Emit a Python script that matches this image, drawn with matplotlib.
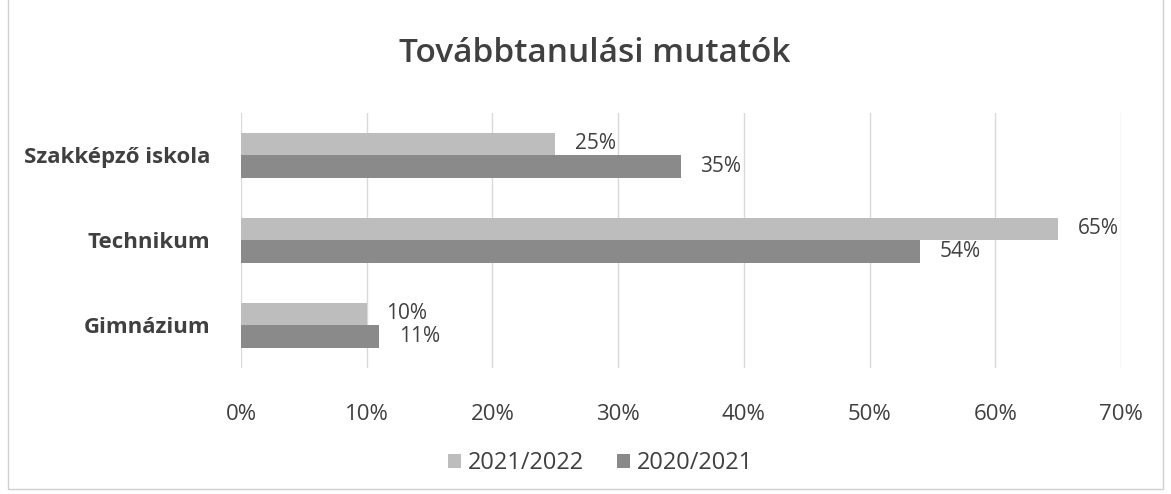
import numpy as np
import matplotlib.pyplot as plt
from matplotlib.patches import Rectangle

categories = ["Szakképző iskola", "Technikum", "Gimnázium"]
labels = ["2021/2022", "2020/2021"]
vals_2122 = [25, 65, 10]
vals_2021 = [35, 54, 11]
xticks = [0, 10, 20, 30, 40, 50, 60, 70]

plt.rcParams['font.family'] = ['Open Sans', 'DejaVu Sans']
txt = '#404040'
c_light = '#bdbdbd'
c_dark = '#8a8a8a'

fig = plt.figure(figsize=(11.71, 4.94), dpi=100)
ax = fig.add_axes([0.2058, 0.256, 0.7515, 0.516])

y = np.arange(len(categories))
h = 0.265
b1 = ax.barh(y - h / 2, vals_2122, height=h, color=c_light, label=labels[0], zorder=2)
b2 = ax.barh(y + h / 2, vals_2021, height=h, color=c_dark, label=labels[1], zorder=2)
for bars in (b1, b2):
    ax.bar_label(bars, labels=[f"{v:.0f}%" for v in bars.datavalues], padding=14,
                 fontsize=15, color=txt)

ax.set_ylim(2.5, -0.5)
ax.set_xlim(0, 70)
ax.set_yticks(y)
ax.set_yticklabels(categories, fontsize=16, fontweight='bold', color=txt)
ax.set_xticks(xticks)
ax.set_xticklabels([f"{t}%" for t in xticks], fontsize=16, color=txt)
ax.tick_params(length=0)
ax.tick_params(axis='x', pad=26)
ax.tick_params(axis='y', pad=22)
ax.grid(axis='x', color='#d9d9d9', linewidth=1, zorder=0)
for s in ax.spines.values():
    s.set_visible(False)

fig.suptitle("Továbbtanulási mutatók", x=0.508, y=0.925, fontsize=24,
             fontweight='semibold', color=txt)
fig.legend(handles=[b1, b2], labels=labels, loc='center', bbox_to_anchor=(0.513, 0.062),
           ncol=2, frameon=False, fontsize=17, labelcolor=txt, handlelength=0.55,
           handleheight=0.55, handletextpad=0.3, columnspacing=1.4)

fig.patches.append(Rectangle((0.007, 0.01), 0.986, 1.1, transform=fig.transFigure,
                             fill=False, edgecolor='#d0d0d0', linewidth=1))
fig.savefig("out.png")
